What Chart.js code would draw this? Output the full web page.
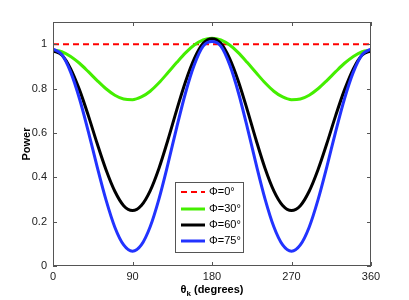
<!DOCTYPE html>
<html><head><meta charset="utf-8">
<script src="https://cdn.jsdelivr.net/npm/chart.js@4"></script>
<style>html,body{margin:0;padding:0;background:#fff}#wrap{width:409px;height:300px}</style>
</head><body><div id="wrap"><canvas id="c" width="409" height="300"></canvas></div>
<script>
const THETA = [0,10,20,30,40,50,60,70,80,90,100,110,120,130,140,150,160,170,180,190,200,210,220,230,240,250,260,270,280,290,300,310,320,330,340,350,360];
const PHI0  = [1,1,1,1,1,1,1,1,1,1,1,1,1,1,1,1,1,1,1,1,1,1,1,1,1,1,1,1,1,1,1,1,1,1,1,1,1];
const PHI30 = [0.973,0.966,0.945,0.914,0.876,0.836,0.799,0.770,0.753,0.750,0.762,0.788,0.826,0.871,0.917,0.961,0.996,1.019,1.027,1.019,0.996,0.961,0.917,0.871,0.826,0.788,0.762,0.750,0.753,0.770,0.799,0.836,0.876,0.914,0.945,0.966,0.973];
const PHI60 = [0.970,0.951,0.889,0.794,0.678,0.552,0.434,0.337,0.272,0.250,0.273,0.339,0.441,0.567,0.703,0.831,0.935,1.004,1.025,1.004,0.935,0.831,0.703,0.567,0.441,0.339,0.273,0.250,0.272,0.337,0.434,0.552,0.678,0.794,0.889,0.951,0.970];
const PHI75 = [0.978,0.953,0.874,0.754,0.606,0.447,0.298,0.175,0.095,0.067,0.095,0.177,0.303,0.458,0.624,0.780,0.907,0.991,1.012,0.991,0.907,0.780,0.624,0.458,0.303,0.177,0.095,0.067,0.095,0.175,0.298,0.447,0.606,0.754,0.874,0.953,0.978];
const LABELS = ['Φ=0°','Φ=30°','Φ=60°','Φ=75°'];
const X_TICKS = [0,90,180,270,360];
const Y_TICKS = [0,0.2,0.4,0.6,0.8,1];
const X_TITLE = ['θ','k',' (degrees)'];
const Y_TITLE = 'Power';

const COLORS = ['#ff0000','#44ee00','#000000','#2233ff'];
const SERIES = [PHI0,PHI30,PHI60,PHI75];
const FONT = '"Liberation Sans", Arial, sans-serif';

const datasets = SERIES.map((s,i)=>({
  label: LABELS[i],
  data: THETA.map((t,j)=>({x:t,y:s[j]})),
  borderColor: COLORS[i],
  borderWidth: i===0 ? 2 : 3,
  borderDash: i===0 ? [6,4] : [],
  pointRadius: 0,
  fill: false,
  order: SERIES.length-1-i,
  cubicInterpolationMode: 'monotone'
}));

const deco = {
  id:'deco',
  afterDraw(chart){
    const ctx = chart.ctx, a = chart.chartArea;
    const xs = chart.scales.x, ys = chart.scales.y;
    ctx.save();
    ctx.strokeStyle = '#555'; ctx.lineWidth = 1;
    ctx.strokeRect(a.left+0.5, a.top+0.5, a.right-a.left-1, a.bottom-a.top-1);
    ctx.beginPath();
    X_TICKS.forEach(v=>{const p=Math.round(xs.getPixelForValue(v))+0.5;
      ctx.moveTo(p,a.bottom); ctx.lineTo(p,a.bottom-4);
      ctx.moveTo(p,a.top); ctx.lineTo(p,a.top+4);});
    Y_TICKS.forEach(v=>{const p=Math.round(ys.getPixelForValue(v))+0.5;
      ctx.moveTo(a.left,p); ctx.lineTo(a.left+4,p);
      ctx.moveTo(a.right,p); ctx.lineTo(a.right-4,p);});
    ctx.stroke();
    // titles
    ctx.fillStyle = '#000';
    ctx.font = 'bold 11px '+FONT;
    ctx.textBaseline = 'middle';
    const w1 = ctx.measureText(X_TITLE[0]).width;
    ctx.font = 'bold 8px '+FONT;
    const w2 = ctx.measureText(X_TITLE[1]).width;
    ctx.font = 'bold 11px '+FONT;
    const w3 = ctx.measureText(X_TITLE[2]).width;
    let x0 = (a.left+a.right)/2 - (w1+w2+w3)/2, yT = 290;
    ctx.textAlign='left';
    ctx.fillText(X_TITLE[0], x0, yT);
    ctx.font = 'bold 8px '+FONT;
    ctx.fillText(X_TITLE[1], x0+w1, yT+4);
    ctx.font = 'bold 11px '+FONT;
    ctx.fillText(X_TITLE[2], x0+w1+w2, yT);
    ctx.save();
    ctx.translate(27,(a.top+a.bottom)/2);
    ctx.rotate(-Math.PI/2);
    ctx.textAlign='center';
    ctx.fillText(Y_TITLE,0,0);
    ctx.restore();
    // legend
    const lx=175.5, ly=182.5, lw=68, lh=70;
    ctx.fillStyle='#fff'; ctx.fillRect(lx,ly,lw,lh);
    ctx.strokeStyle='#555'; ctx.lineWidth=1; ctx.strokeRect(lx,ly,lw,lh);
    const rows=[192,209,225,241];
    LABELS.forEach((lab,i)=>{
      ctx.strokeStyle=COLORS[i]; ctx.lineWidth = i===0?2:3;
      ctx.setLineDash(i===0?[6,4]:[]);
      ctx.beginPath(); ctx.moveTo(181,rows[i]); ctx.lineTo(205,rows[i]); ctx.stroke();
      ctx.setLineDash([]);
      ctx.fillStyle='#000'; ctx.font='11px '+FONT; ctx.textAlign='left'; ctx.textBaseline='middle';
      ctx.fillText(lab,209,rows[i]);
    });
    ctx.restore();
  }
};

new Chart(document.getElementById('c'),{
  type:'line',
  data:{datasets},
  options:{
    responsive:false, animation:false, devicePixelRatio:1,
    layout:{padding:{left:0,top:22,right:38,bottom:0}},
    plugins:{legend:{display:false},tooltip:{enabled:false}},
    scales:{
      x:{type:'linear',min:0,max:360,
        afterBuildTicks:s=>{s.ticks=X_TICKS.map(v=>({value:v}));},
        afterFit:s=>{s.height=34;},
        grid:{display:false,drawTicks:false},
        border:{display:false},
        ticks:{color:'#222',font:{family:FONT,size:11},padding:4,maxRotation:0,callback:v=>String(v)}},
      y:{type:'linear',min:0,max:1.1,
        afterBuildTicks:s=>{s.ticks=Y_TICKS.map(v=>({value:v}));},
        afterFit:s=>{s.width=53;},
        grid:{display:false,drawTicks:false},
        border:{display:false},
        ticks:{color:'#222',font:{family:FONT,size:11},padding:6,callback:v=>String(v)}}
    }
  },
  plugins:[deco]
});
</script></body></html>
